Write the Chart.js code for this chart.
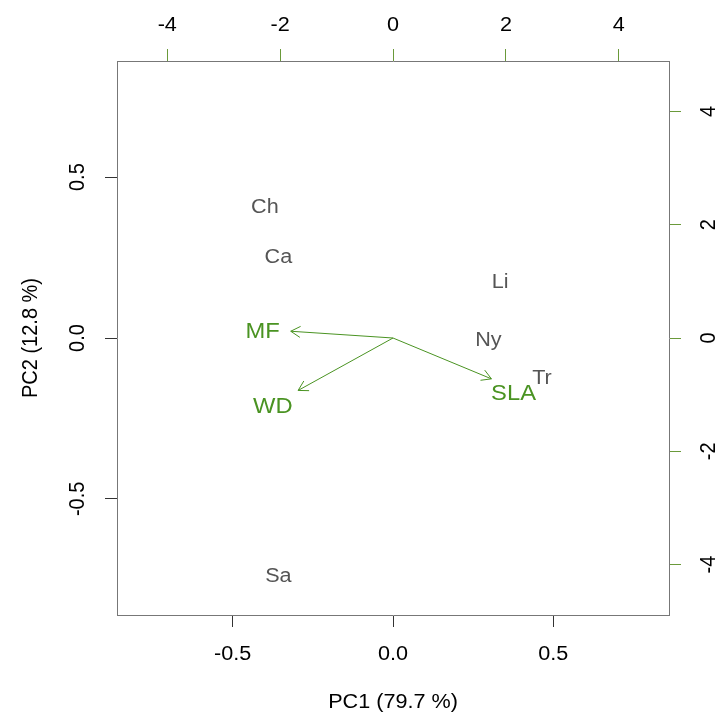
<!DOCTYPE html>
<html><head><meta charset="utf-8">
<script src="https://cdn.jsdelivr.net/npm/chart.js@4.4.1/dist/chart.umd.min.js"></script>
<style>html,body{margin:0;padding:0;background:#fff;}canvas{display:block;}</style>
</head><body>
<canvas id="c" width="717" height="719"></canvas>
<script>
// ---- data ----
const siteNames = ['Ch', 'Ca', 'Li', 'Ny', 'Tr', 'Sa'];
const siteX = [-2.27, -2.03, 1.90, 1.69, 2.64, -2.03];   // top axis (scores)
const siteY = [2.34, 1.45, 1.01, -0.02, -0.69, -4.18];   // right axis (scores)
const varNames = ['MF', 'WD', 'SLA'];
const varX = [-0.407, -0.375, 0.376];                     // label positions (bottom axis)
const varY = [0.024, -0.210, -0.169];                     // label positions (left axis)
const arrowX = [-0.319, -0.296, 0.307];                   // arrow tips
const arrowY = [0.021, -0.163, -0.127];
const pcTicks = [-0.5, 0, 0.5];
const scoreTicks = [-4, -2, 0, 2, 4];
const xTitle = 'PC1 (79.7 %)';
const yTitle = 'PC2 (12.8 %)';
const pcLim = 0.861;
const scoreLim = 4.89;

const GREEN = '#4a9322';
const GRAY = '#555555';
const FONT = '"Liberation Sans", Arial, Helvetica, sans-serif';
const SX = 1.08;

function drawText(ctx, text, x, y, size, color, rot) {
  ctx.save();
  ctx.translate(x, y);
  ctx.scale(SX, 1);
  if (rot) ctx.rotate(rot);
  ctx.font = size + 'px ' + FONT;
  ctx.fillStyle = color;
  ctx.textAlign = 'center';
  ctx.textBaseline = 'alphabetic';
  ctx.fillText(text, 0, size * 0.716 / 2);
  ctx.restore();
}

const datasets = [];
datasets.push({
  label: 'sites', xAxisID: 'x2', yAxisID: 'y2',
  data: siteX.map((x, i) => ({x: x, y: siteY[i]})),
  pointRadius: 0, showLine: false
});
datasets.push({
  label: 'vars', xAxisID: 'x', yAxisID: 'y',
  data: varX.map((x, i) => ({x: x, y: varY[i]})),
  pointRadius: 0, showLine: false
});
varNames.forEach((n, i) => {
  datasets.push({
    label: 'arrow_' + n, xAxisID: 'x', yAxisID: 'y',
    data: [{x: 0, y: 0}, {x: arrowX[i], y: arrowY[i]}],
    showLine: true, borderColor: GREEN, borderWidth: 1, pointRadius: 0, fill: false
  });
});

const labelPlugin = {
  id: 'biplotLabels',
  afterDatasetsDraw(chart) {
    const ctx = chart.ctx;
    // arrowheads
    chart.data.datasets.forEach((ds, di) => {
      if (!ds.label.startsWith('arrow_')) return;
      const m = chart.getDatasetMeta(di);
      const p0 = m.data[0], p1 = m.data[1];
      const a = Math.atan2(p1.y - p0.y, p1.x - p0.x);
      const L = 11, h = Math.PI / 6;
      ctx.save();
      ctx.strokeStyle = GREEN; ctx.lineWidth = 1;
      ctx.beginPath();
      ctx.moveTo(p1.x - L * Math.cos(a - h), p1.y - L * Math.sin(a - h));
      ctx.lineTo(p1.x, p1.y);
      ctx.lineTo(p1.x - L * Math.cos(a + h), p1.y - L * Math.sin(a + h));
      ctx.stroke();
      ctx.restore();
    });
    const ms = chart.getDatasetMeta(0);
    ms.data.forEach((p, i) => drawText(ctx, siteNames[i], p.x, p.y, 20, GRAY));
    const mv = chart.getDatasetMeta(1);
    mv.data.forEach((p, i) => drawText(ctx, varNames[i], p.x, p.y, 22, GREEN));
  },
  afterDraw(chart) {
    const ctx = chart.ctx;
    const ca = chart.chartArea;
    const sx = chart.scales.x, sx2 = chart.scales.x2, sy = chart.scales.y, sy2 = chart.scales.y2;
    sx.ticks.forEach(t => drawText(ctx, t.value.toFixed(1), sx.getPixelForValue(t.value), ca.bottom + 38, 20, '#000'));
    sx2.ticks.forEach(t => drawText(ctx, String(t.value), sx2.getPixelForValue(t.value), ca.top - 37, 20, '#000'));
    sy.ticks.forEach(t => drawText(ctx, t.value.toFixed(1), ca.left - 41, sy.getPixelForValue(t.value), 20, '#000', -Math.PI / 2));
    sy2.ticks.forEach(t => drawText(ctx, String(t.value), ca.right + 38, sy2.getPixelForValue(t.value), 20, '#000', -Math.PI / 2));
    drawText(ctx, xTitle, (ca.left + ca.right) / 2, ca.bottom + 86, 20, '#000');
    drawText(ctx, yTitle, ca.left - 88, (ca.top + ca.bottom) / 2, 20, '#000', -Math.PI / 2);
  }
};

function axis(pos, lim, ticks, size, tickColor) {
  return {
    type: 'linear', position: pos, min: -lim, max: lim,
    afterBuildTicks: s => { s.ticks = ticks.map(v => ({value: v})); },
    afterFit: s => { if (pos === 'top' || pos === 'bottom') s.height = size; else s.width = size; },
    grid: {display: true, drawOnChartArea: false, drawTicks: true, tickLength: 12, color: tickColor, lineWidth: 1},
    border: {display: true, color: '#777777', width: 1},
    ticks: {display: false}
  };
}

new Chart(document.getElementById('c'), {
  type: 'scatter',
  data: {datasets: datasets},
  options: {
    responsive: false, animation: false, devicePixelRatio: 1,
    layout: {padding: 0},
    plugins: {legend: {display: false}, tooltip: {enabled: false}},
    scales: {
      x: axis('bottom', pcLim, pcTicks, 104, '#333333'),
      y: axis('left', pcLim, pcTicks, 117, '#333333'),
      x2: axis('top', scoreLim, scoreTicks, 61, '#6a9a3a'),
      y2: axis('right', scoreLim, scoreTicks, 48, '#6a9a3a')
    }
  },
  plugins: [labelPlugin]
});
</script>
</body></html>
